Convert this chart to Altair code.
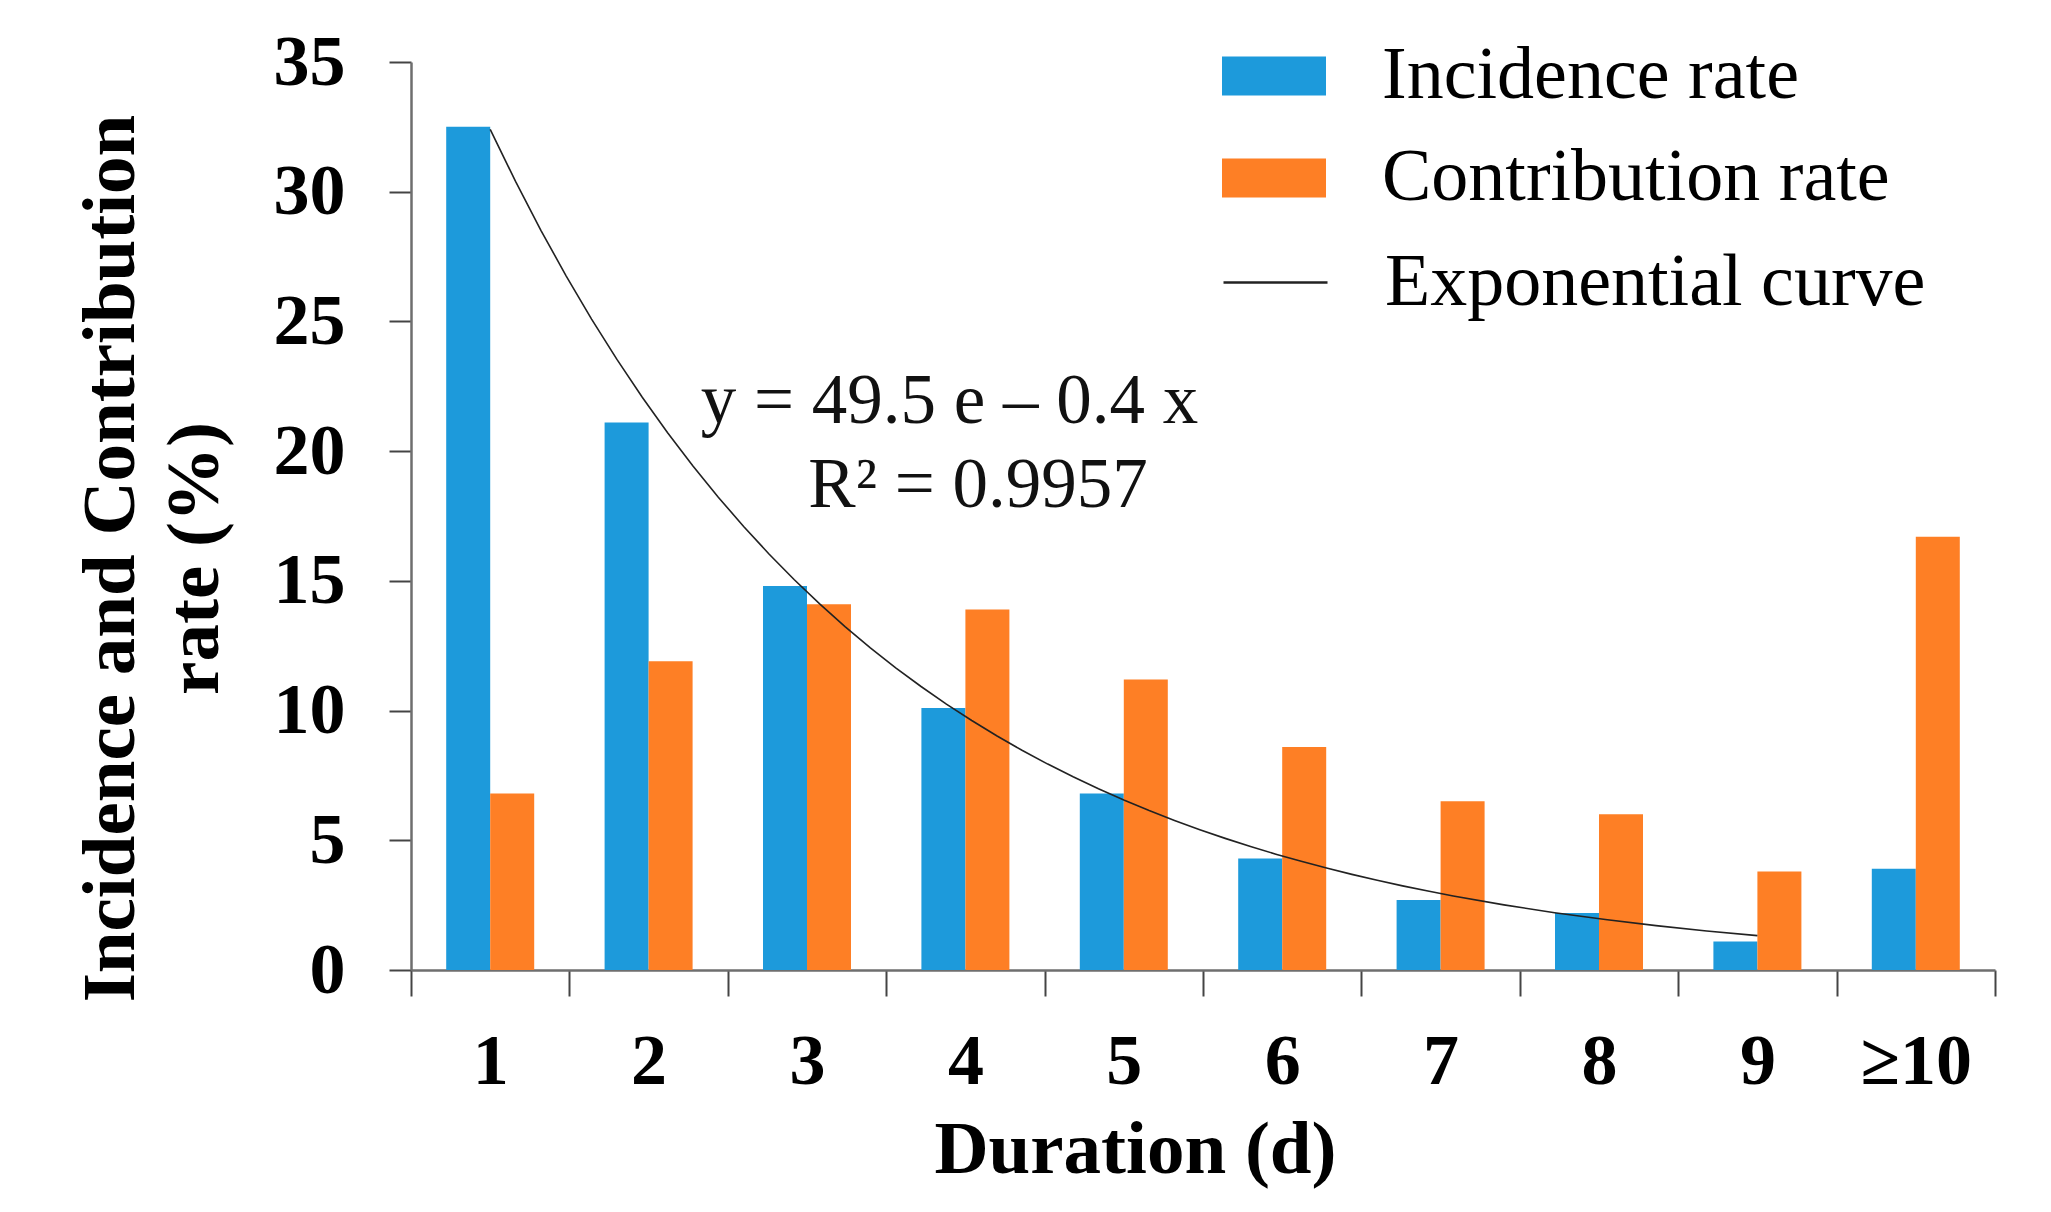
import altair as alt
import pandas as pd

# ---- data ----
days = ["1", "2", "3", "4", "5", "6", "7", "8", "9", "≥10"]
day_num = [1, 2, 3, 4, 5, 6, 7, 8, 9, 10]
incidence = [32.5, 21.1, 14.8, 10.1, 6.8, 4.3, 2.7, 2.2, 1.1, 3.9]
contribution = [6.8, 11.9, 14.1, 13.9, 11.2, 8.6, 6.5, 6.0, 3.8, 16.7]

series_names = ["Incidence rate", "Contribution rate"]
series_colors = ["#1D9ADB", "#FE7F25"]
curve_name = "Exponential curve"

ann_text = ["y = 49.5 e – 0.4 x", "R² = 0.9957"]
ann_x = [3.90, 4.08]
ann_y = [21.1, 17.85]

FONT = "Liberation Serif"

df = pd.DataFrame({
    "day": days,
    "dnum": day_num,
    "Incidence rate": incidence,
    "Contribution rate": contribution,
})
ann = pd.DataFrame({"text": ann_text, "x": ann_x, "y": ann_y})

yscale = alt.Scale(domain=[0, 35], nice=False)
xq = alt.Scale(domain=[0.5, 10.5], nice=False, zero=False)

y_axis = alt.Axis(
    values=[0, 5, 10, 15, 20, 25, 30, 35], grid=False,
    title=["Incidence and Contribution", "rate (%)"],
    labelFont=FONT, labelFontSize=72, labelFontWeight="bold", labelColor="black",
    labelPadding=44, tickSize=22, tickWidth=2, tickColor="#444",
    domainColor="#6e6e6e", domainWidth=2.5,
    titleFont=FONT, titleFontSize=75, titleFontWeight="bold", titleColor="black",
    titleAngle=270, titleX=-278, titleY=496, titleBaseline="alphabetic",
    titleAlign="center", titleLineHeight=84)

bars = alt.Chart(df).transform_fold(
    series_names, as_=["series", "value"]
).mark_bar().encode(
    x=alt.X("day:N", sort=days,
            scale=alt.Scale(paddingInner=0, paddingOuter=0),
            axis=alt.Axis(
                title="Duration (d)", labelAngle=0, tickBand="extent",
                labelFont=FONT, labelFontSize=72, labelFontWeight="bold", labelColor="black",
                labelPadding=30, tickSize=26, tickWidth=2, tickColor="#444",
                domainColor="#6e6e6e", domainWidth=2.5,
                titleFont=FONT, titleFontSize=75, titleFontWeight="bold", titleColor="black",
                titleX=724, titleY=202, titleBaseline="alphabetic", titleAlign="center")),
    xOffset=alt.XOffset("series:N", sort=series_names,
                        scale=alt.Scale(domain=series_names, paddingInner=0, paddingOuter=0.8)),
    y=alt.Y("value:Q", scale=yscale, axis=y_axis),
    color=alt.Color("series:N", sort=series_names,
                    scale=alt.Scale(domain=series_names, range=series_colors),
                    legend=alt.Legend(
                        title=None, orient="none", legendX=811, legendY=-38,
                        symbolType="M-1,-0.375H1V0.375H-1Z", symbolSize=10816,
                        symbolStrokeWidth=0, symbolOpacity=1,
                        labelFont=FONT, labelFontSize=74, labelColor="black",
                        labelOffset=56, labelLimit=900, rowPadding=13)),
)

curve = alt.Chart(df).transform_filter(
    "datum.dnum <= 9"
).transform_regression(
    "dnum", "Incidence rate", method="exp", extent=[1, 9]
).transform_calculate(
    series=f"'{curve_name}'"
).mark_line(strokeWidth=1.6).encode(
    x=alt.X("dnum:Q", scale=xq, axis=None),
    y=alt.Y("Incidence rate:Q", scale=yscale, axis=y_axis),
    stroke=alt.Stroke("series:N",
                      scale=alt.Scale(domain=[curve_name], range=["#222222"]),
                      legend=alt.Legend(
                          title=None, orient="none", legendX=811, legendY=167,
                          symbolType="stroke", symbolSize=10816, symbolStrokeWidth=2.5,
                          labelFont=FONT, labelFontSize=74, labelColor="black",
                          labelOffset=56, labelLimit=900)),
)

labels = alt.Chart(ann).mark_text(
    font=FONT, fontSize=71, color="#111111", align="center", baseline="alphabetic"
).encode(
    x=alt.X("x:Q", scale=xq, axis=None),
    y=alt.Y("y:Q", scale=yscale, axis=y_axis),
    text="text:N",
)

chart = alt.layer(bars, curve, labels).resolve_scale(
    x="independent"
).properties(
    width=1584, height=908,
    background="white",
    autosize=alt.AutoSizeParams(type="none"),
    padding={"left": 403, "top": 54, "right": 48, "bottom": 226},
).configure_view(strokeWidth=0, stroke="transparent")

chart.save("out.html", embed_options={"renderer": "svg", "actions": False})
